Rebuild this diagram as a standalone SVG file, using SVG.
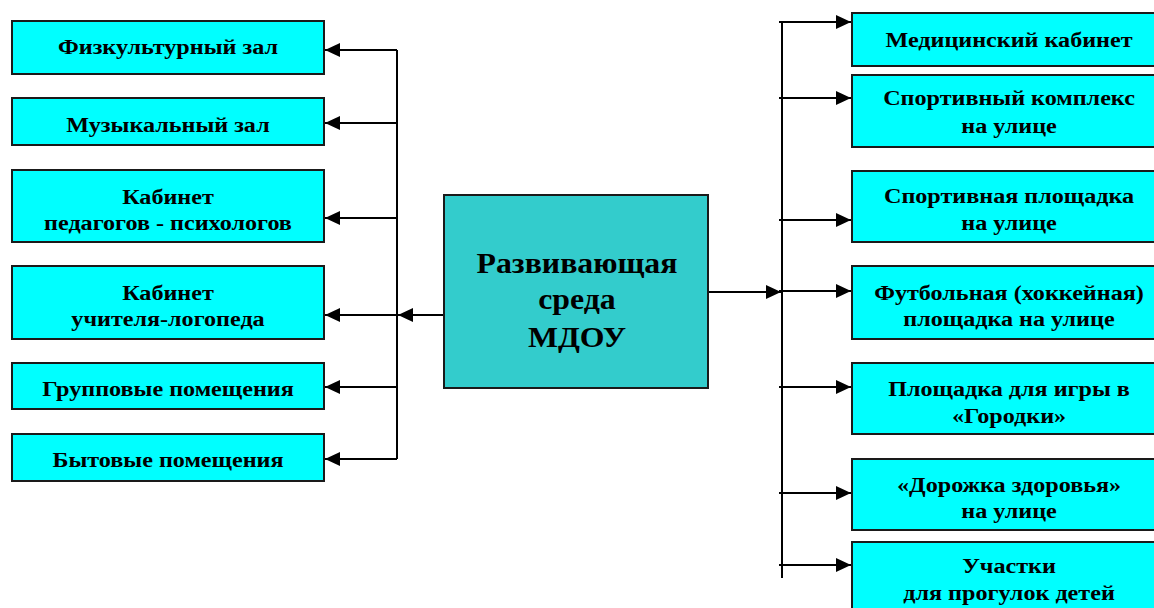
<svg xmlns="http://www.w3.org/2000/svg" width="1154" height="608" viewBox="0 0 1154 608">
<style>
.box{fill:#00FFFF;stroke:#1a1a1a;stroke-width:2}
.center{fill:#33CCCC;stroke:#1a1a1a;stroke-width:2}
.t{font-family:"Liberation Serif","Times New Roman",serif;font-weight:bold;font-size:21px;fill:#000;text-anchor:middle}
.tc{font-family:"Liberation Serif","Times New Roman",serif;font-weight:bold;font-size:30px;fill:#000;text-anchor:middle}
.ln{stroke:#000;stroke-width:2;fill:none}
</style>
<defs>
<marker id="ah" markerUnits="userSpaceOnUse" markerWidth="16" markerHeight="14" refX="15" refY="7" orient="auto">
<path d="M0,0 L15,7 L0,14 Z" fill="#000"/>
</marker>
</defs>
<rect width="1154" height="608" fill="#fff"/>
<g id="connectors">
<line class="ln" x1="397" y1="50" x2="397" y2="459"/>
<line class="ln" x1="397" y1="50" x2="325" y2="50" marker-end="url(#ah)"/>
<line class="ln" x1="397" y1="123" x2="325" y2="123" marker-end="url(#ah)"/>
<line class="ln" x1="397" y1="218" x2="325" y2="218" marker-end="url(#ah)"/>
<line class="ln" x1="397" y1="315" x2="325" y2="315" marker-end="url(#ah)"/>
<line class="ln" x1="397" y1="387" x2="325" y2="387" marker-end="url(#ah)"/>
<line class="ln" x1="397" y1="459" x2="325" y2="459" marker-end="url(#ah)"/>
<line class="ln" x1="444" y1="315" x2="398" y2="315" marker-end="url(#ah)"/>
<line class="ln" x1="708" y1="292" x2="781" y2="292" marker-end="url(#ah)"/>
<line class="ln" x1="782" y1="21" x2="782" y2="578"/>
<line class="ln" x1="779" y1="22" x2="851" y2="22" marker-end="url(#ah)"/>
<line class="ln" x1="779" y1="98" x2="851" y2="98" marker-end="url(#ah)"/>
<line class="ln" x1="779" y1="220" x2="851" y2="220" marker-end="url(#ah)"/>
<line class="ln" x1="779" y1="291" x2="851" y2="291" marker-end="url(#ah)"/>
<line class="ln" x1="779" y1="387" x2="851" y2="387" marker-end="url(#ah)"/>
<line class="ln" x1="779" y1="493" x2="851" y2="493" marker-end="url(#ah)"/>
<line class="ln" x1="779" y1="565" x2="851" y2="565" marker-end="url(#ah)"/>
</g>
<g id="n-center"><rect class="center" x="444" y="195" width="264" height="193"/>
<text class="tc" transform="matrix(1.06 0 0 1 577 273)">Развивающая</text><text class="tc" transform="matrix(1.06 0 0 1 577 309)">среда</text><text class="tc" transform="matrix(1.06 0 0 1 577 347)">МДОУ</text></g>
<g id="n-l1"><rect class="box" x="12" y="21" width="312" height="53"/><text class="t" transform="matrix(1.15 0 0 1 168 54)">Физкультурный зал</text></g>
<g id="n-l2"><rect class="box" x="12" y="98" width="312" height="47"/><text class="t" transform="matrix(1.15 0 0 1 168 132)">Музыкальный зал</text></g>
<g id="n-l3"><rect class="box" x="12" y="170" width="312" height="72"/><text class="t" transform="matrix(1.15 0 0 1 168 204)">Кабинет</text><text class="t" transform="matrix(1.15 0 0 1 168 230)">педагогов - психологов</text></g>
<g id="n-l4"><rect class="box" x="12" y="266" width="312" height="73"/><text class="t" transform="matrix(1.15 0 0 1 168 300)">Кабинет</text><text class="t" transform="matrix(1.15 0 0 1 168 326)">учителя-логопеда</text></g>
<g id="n-l5"><rect class="box" x="12" y="363" width="312" height="46"/><text class="t" transform="matrix(1.15 0 0 1 168 396)">Групповые помещения</text></g>
<g id="n-l6"><rect class="box" x="12" y="434" width="312" height="47"/><text class="t" transform="matrix(1.15 0 0 1 168 467)">Бытовые помещения</text></g>
<g id="n-r1"><rect class="box" x="852" y="13" width="314" height="53"/><text class="t" transform="matrix(1.15 0 0 1 1009 47)">Медицинский кабинет</text></g>
<g id="n-r2"><rect class="box" x="852" y="75" width="314" height="72"/><text class="t" transform="matrix(1.15 0 0 1 1009 105)">Спортивный комплекс</text><text class="t" transform="matrix(1.15 0 0 1 1009 133)">на улице</text></g>
<g id="n-r3"><rect class="box" x="852" y="171" width="314" height="71"/><text class="t" transform="matrix(1.15 0 0 1 1009 203)">Спортивная площадка</text><text class="t" transform="matrix(1.15 0 0 1 1009 230)">на улице</text></g>
<g id="n-r4"><rect class="box" x="852" y="266" width="314" height="73"/><text class="t" transform="matrix(1.15 0 0 1 1009 300)">Футбольная (хоккейная)</text><text class="t" transform="matrix(1.15 0 0 1 1009 326)">площадка на улице</text></g>
<g id="n-r5"><rect class="box" x="852" y="363" width="314" height="71"/><text class="t" transform="matrix(1.15 0 0 1 1009 396)">Площадка для игры в</text><text class="t" transform="matrix(1.15 0 0 1 1009 423)">«Городки»</text></g>
<g id="n-r6"><rect class="box" x="852" y="459" width="314" height="71"/><text class="t" transform="matrix(1.15 0 0 1 1009 492)">«Дорожка здоровья»</text><text class="t" transform="matrix(1.15 0 0 1 1009 518)">на улице</text></g>
<g id="n-r7"><rect class="box" x="852" y="542" width="314" height="80"/><text class="t" transform="matrix(1.15 0 0 1 1009 573)">Участки</text><text class="t" transform="matrix(1.15 0 0 1 1009 600)">для прогулок детей</text></g>
</svg>
